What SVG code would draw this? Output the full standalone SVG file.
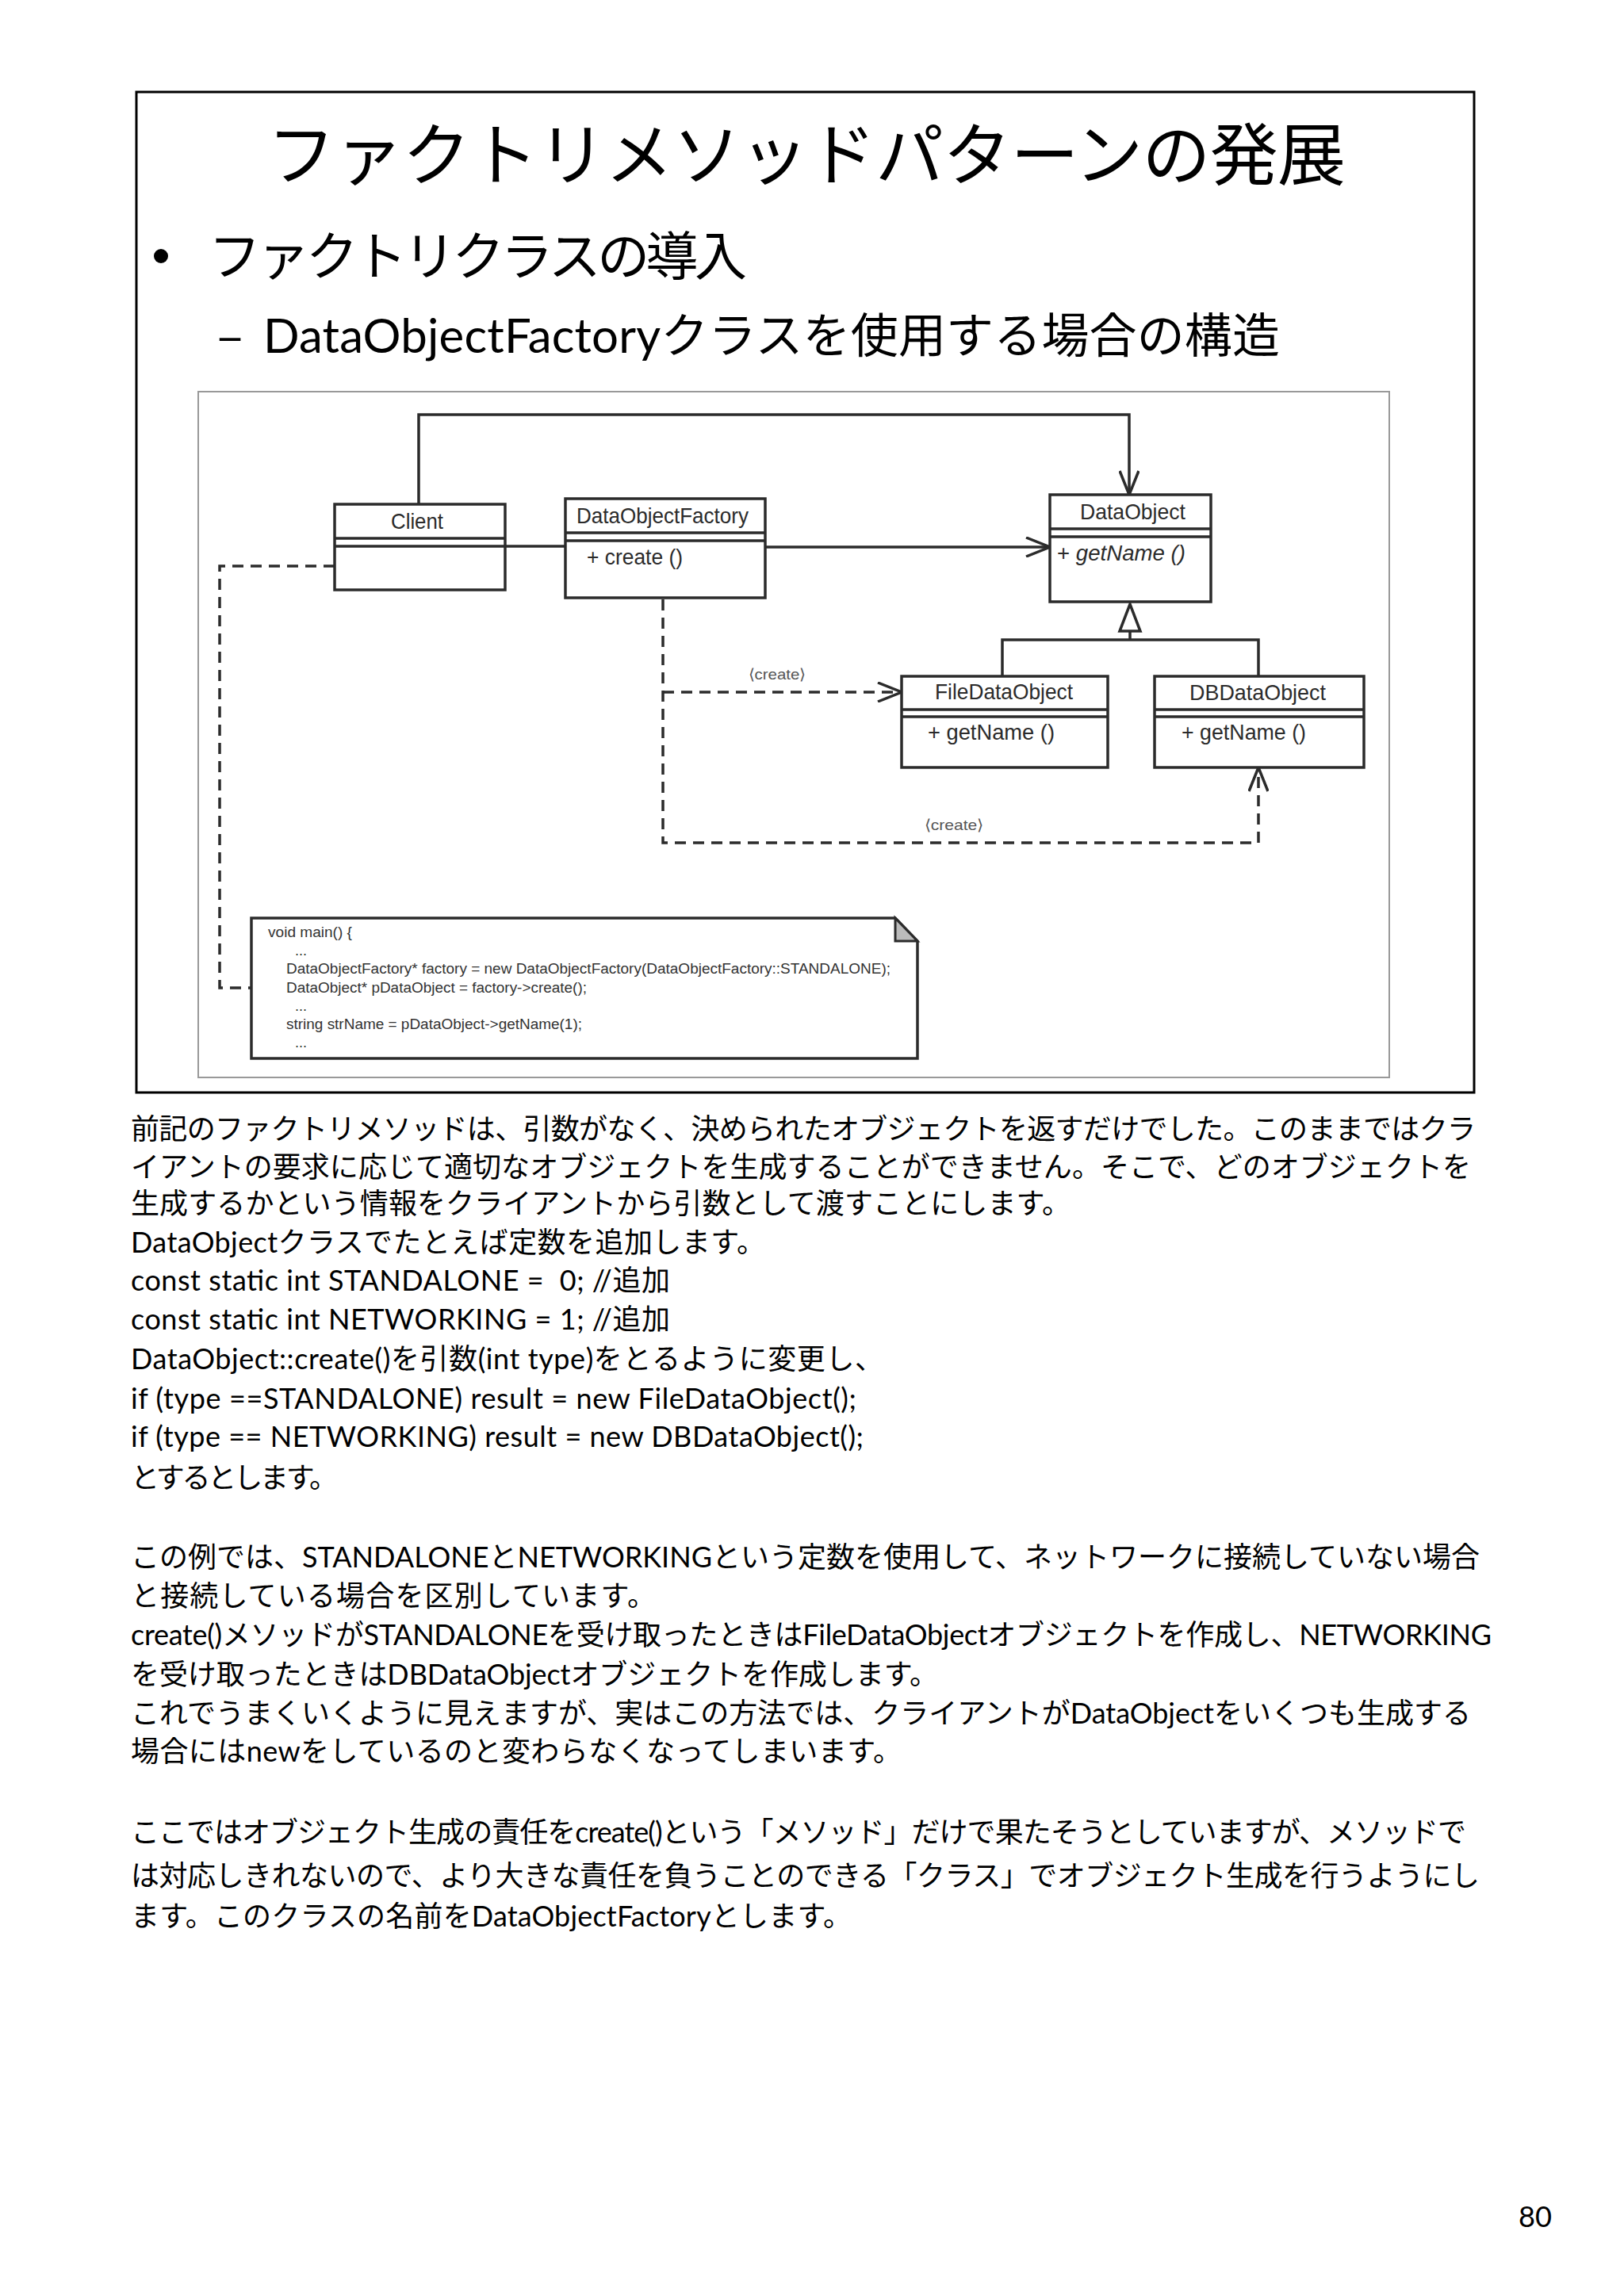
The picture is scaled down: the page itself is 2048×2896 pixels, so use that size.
<svg xmlns="http://www.w3.org/2000/svg" width="2048" height="2896" viewBox="0 0 2048 2896">
<style>
.frame{fill:none;stroke:#000;stroke-width:3}
.inner{fill:#fff;stroke:#999;stroke-width:2}
.box{fill:#fff;stroke:#2b2b2b;stroke-width:3.5}
.ln{fill:none;stroke:#2b2b2b;stroke-width:3.5}
.dash{fill:none;stroke:#2b2b2b;stroke-width:3.5;stroke-dasharray:14 9}
.uml{font-family:"Liberation Sans",Arial,sans-serif;font-size:28px;fill:#2b2b2b}
.lbl{font-family:"Liberation Sans",Arial,sans-serif;font-size:19px;fill:#555}
.code{font-family:"Liberation Sans",Arial,sans-serif;font-size:18px;fill:#333}
.body{font-family:Lato,"Noto Sans CJK JP",sans-serif;font-size:36px;fill:#000}
.title{font-family:"Noto Sans CJK JP",sans-serif;fill:#000}
</style>
<defs>
<marker id="open" viewBox="0 0 32 26" refX="31" refY="13" markerWidth="32" markerHeight="26" orient="auto" markerUnits="userSpaceOnUse">
<path d="M1,1 L31,13 L1,25" fill="none" stroke="#2b2b2b" stroke-width="3.5" stroke-dasharray="none"/>
</marker>
</defs>
<rect width="2048" height="2896" fill="#fff"/>

<g id="slide">
<rect class="frame" x="172" y="116" width="1687" height="1262"/>
<text class="title" x="337" y="227" font-size="86" textLength="1360" lengthAdjust="spacing">ファクトリメソッドパターンの発展</text>
<circle cx="203" cy="323" r="9" fill="#000"/>
<text class="title" x="263" y="347" font-size="66" textLength="679" lengthAdjust="spacing">ファクトリクラスの導入</text>
<text class="title" x="274" y="445" font-size="60">–</text>
<text x="332" y="445" font-family="Lato,'Noto Sans CJK JP',sans-serif" font-size="60" textLength="1282" lengthAdjust="spacing">DataObjectFactoryクラスを使用する場合の構造</text>
<rect class="inner" x="250" y="494" width="1502" height="865"/>
</g>

<g id="connectors">
<path class="ln" d="M528,636 V523 H1424 V624" marker-end="url(#open)"/>
<path class="ln" d="M637,689 H713"/>
<path class="ln" d="M965,690 H1324" marker-end="url(#open)"/>
<path class="ln" d="M1425,796 V807 M1264,853 V807 H1587 V853"/>
<polygon points="1425,762 1412,796 1438,796" fill="#fff" stroke="#2b2b2b" stroke-width="3.5"/>
<path class="dash" d="M422,714 H277 V1246 H317"/>
<path class="dash" d="M836,756 V1063 H1587 V968" marker-end="url(#open)"/>
<path class="dash" d="M836,873 H1137" marker-end="url(#open)"/>
<text class="lbl" x="944" y="857" textLength="72" lengthAdjust="spacingAndGlyphs">⟨create⟩</text>
<text class="lbl" x="1166" y="1047" textLength="74" lengthAdjust="spacingAndGlyphs">⟨create⟩</text>
</g>

<g id="client">
<rect class="box" x="422" y="636" width="215" height="108"/>
<path class="ln" d="M422,679 H637 M422,689 H637"/>
<text class="uml" x="493" y="667" textLength="66" lengthAdjust="spacingAndGlyphs">Client</text>
</g>

<g id="factory">
<rect class="box" x="713" y="629" width="252" height="125"/>
<path class="ln" d="M713,672 H965 M713,682 H965"/>
<text class="uml" x="727" y="660" textLength="217" lengthAdjust="spacingAndGlyphs">DataObjectFactory</text>
<text class="uml" x="740" y="712" textLength="121" lengthAdjust="spacingAndGlyphs">+ create ()</text>
</g>

<g id="dataobject">
<rect class="box" x="1324" y="624" width="203" height="135"/>
<path class="ln" d="M1324,667 H1527 M1324,677 H1527"/>
<text class="uml" x="1362" y="655" textLength="133" lengthAdjust="spacingAndGlyphs">DataObject</text>
<text class="uml" x="1333" y="707" textLength="162" lengthAdjust="spacingAndGlyphs">+ <tspan font-style="italic">getName ()</tspan></text>
</g>

<g id="filedataobject">
<rect class="box" x="1137" y="853" width="260" height="115"/>
<path class="ln" d="M1137,895 H1397 M1137,904 H1397"/>
<text class="uml" x="1179" y="882" textLength="174" lengthAdjust="spacingAndGlyphs">FileDataObject</text>
<text class="uml" x="1170" y="933" textLength="160" lengthAdjust="spacingAndGlyphs">+ getName ()</text>
</g>

<g id="dbdataobject">
<rect class="box" x="1456" y="853" width="264" height="115"/>
<path class="ln" d="M1456,895 H1720 M1456,904 H1720"/>
<text class="uml" x="1500" y="883" textLength="172" lengthAdjust="spacingAndGlyphs">DBDataObject</text>
<text class="uml" x="1490" y="933" textLength="157" lengthAdjust="spacingAndGlyphs">+ getName ()</text>
</g>

<g id="note">
<path class="box" d="M317,1158 H1129 L1157,1187 V1335 H317 Z"/>
<path d="M1129,1158 V1187 H1157 Z" fill="#bbb" stroke="#2b2b2b" stroke-width="3"/>
<text class="code" x="338" y="1182" textLength="106" lengthAdjust="spacingAndGlyphs">void main() {</text>
<text class="code" x="372" y="1205" font-size="13">...</text>
<text class="code" x="361" y="1228" textLength="762" lengthAdjust="spacingAndGlyphs">DataObjectFactory* factory = new DataObjectFactory(DataObjectFactory::STANDALONE);</text>
<text class="code" x="361" y="1252" textLength="379" lengthAdjust="spacingAndGlyphs">DataObject* pDataObject = factory-&gt;create();</text>
<text class="code" x="372" y="1275" font-size="13">...</text>
<text class="code" x="361" y="1298" textLength="373" lengthAdjust="spacingAndGlyphs">string strName = pDataObject-&gt;getName(1);</text>
<text class="code" x="372" y="1321" font-size="13">...</text>
</g>

<g id="bodytext">
<text class="body" x="165" y="1437" textLength="1696" lengthAdjust="spacing">前記のファクトリメソッドは、引数がなく、決められたオブジェクトを返すだけでした。このままではクラ</text>
<text class="body" x="165" y="1485" textLength="1690" lengthAdjust="spacing">イアントの要求に応じて適切なオブジェクトを生成することができません。そこで、どのオブジェクトを</text>
<text class="body" x="165" y="1531" textLength="1185" lengthAdjust="spacing">生成するかという情報をクライアントから引数として渡すことにします。</text>
<text class="body" x="165" y="1580" textLength="800" lengthAdjust="spacing">DataObjectクラスでたとえば定数を追加します。</text>
<text class="body" x="165" y="1628" textLength="680" lengthAdjust="spacing">const static int STANDALONE = &#160;0; //追加</text>
<text class="body" x="165" y="1677" textLength="680" lengthAdjust="spacing">const static int NETWORKING = 1; //追加</text>
<text class="body" x="165" y="1727" textLength="949" lengthAdjust="spacing">DataObject::create()を引数(int type)をとるように変更し、</text>
<text class="body" x="165" y="1777" textLength="915" lengthAdjust="spacing">if (type ==STANDALONE) result = new FileDataObject();</text>
<text class="body" x="165" y="1825" textLength="924" lengthAdjust="spacing">if (type == NETWORKING) result = new DBDataObject();</text>
<text class="body" x="165" y="1877" textLength="261" lengthAdjust="spacing">とするとします。</text>
<text class="body" x="165" y="1977" textLength="1701" lengthAdjust="spacing">この例では、STANDALONEとNETWORKINGという定数を使用して、ネットワークに接続していない場合</text>
<text class="body" x="165" y="2026" textLength="662" lengthAdjust="spacing">と接続している場合を区別しています。</text>
<text class="body" x="165" y="2075" textLength="1716" lengthAdjust="spacing">create()メソッドがSTANDALONEを受け取ったときはFileDataObjectオブジェクトを作成し、NETWORKING</text>
<text class="body" x="165" y="2125" textLength="1018" lengthAdjust="spacing">を受け取ったときはDBDataObjectオブジェクトを作成します。</text>
<text class="body" x="165" y="2174" textLength="1690" lengthAdjust="spacing">これでうまくいくように見えますが、実はこの方法では、クライアントがDataObjectをいくつも生成する</text>
<text class="body" x="165" y="2222" textLength="972" lengthAdjust="spacing">場合にはnewをしているのと変わらなくなってしまいます。</text>
<text class="body" x="165" y="2324" textLength="1684" lengthAdjust="spacing">ここではオブジェクト生成の責任をcreate()という「メソッド」だけで果たそうとしていますが、メソッドで</text>
<text class="body" x="165" y="2379" textLength="1701" lengthAdjust="spacing">は対応しきれないので、より大きな責任を負うことのできる「クラス」でオブジェクト生成を行うようにし</text>
<text class="body" x="165" y="2430" textLength="909" lengthAdjust="spacing">ます。このクラスの名前をDataObjectFactoryとします。</text>
<text class="body" x="1915" y="2809" font-size="40" textLength="42" lengthAdjust="spacingAndGlyphs">80</text>
</g>
</svg>
